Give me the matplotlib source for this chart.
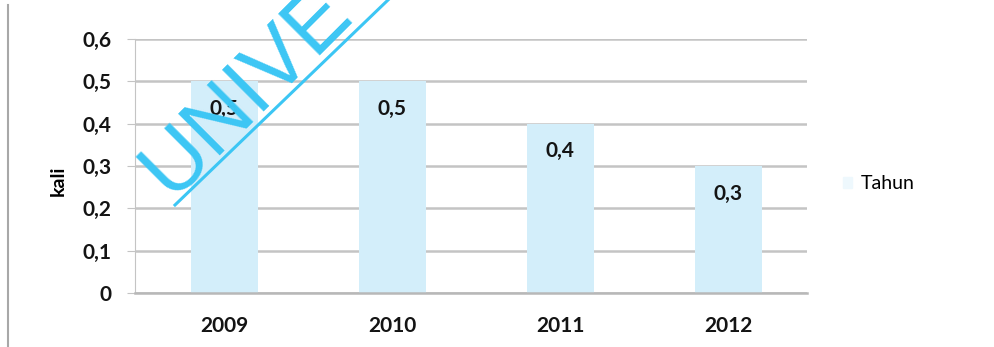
import matplotlib
matplotlib.use("Agg")
import matplotlib.pyplot as plt
from matplotlib.lines import Line2D
from matplotlib.ticker import FuncFormatter

# data
tahun = ["2009", "2010", "2011", "2012"]
kali = [0.5, 0.5, 0.4, 0.3]
y_ticks = [0, 0.1, 0.2, 0.3, 0.4, 0.5, 0.6]

bar_color = "#d3eefa"
grid_color = "#c4c4c4"
font = ["Lato", "DejaVu Sans"]


def koma(v):
    # decimal comma, plain 0 at the origin
    return "0" if v == 0 else f"{v:.1f}".replace(".", ",")


fig = plt.figure(figsize=(9.94, 3.47), dpi=100)
ax = fig.add_axes([0.136, 0.156, 0.676, 0.732])

bars = ax.bar(range(len(tahun)), kali, width=0.4, color=bar_color, zorder=2, label="Tahun")

ax.set_xlim(-0.53, len(tahun) - 0.53)
ax.set_ylim(0, 0.6)
ax.set_yticks(y_ticks)
ax.yaxis.set_major_formatter(FuncFormatter(lambda v, _: koma(v)))
ax.set_xticks(range(len(tahun)))
ax.set_xticklabels(tahun)

ax.grid(axis="y", color=grid_color, linewidth=1.8, zorder=1)
for s in ["top", "right"]:
    ax.spines[s].set_visible(False)
ax.spines["left"].set_color(grid_color)
ax.spines["bottom"].set_color("#b8b8b8")
ax.spines["bottom"].set_linewidth(1.8)
ax.tick_params(axis="y", length=6, color=grid_color, pad=11)
ax.tick_params(axis="x", length=0, pad=17)
for lbl in ax.get_xticklabels() + ax.get_yticklabels():
    lbl.set_family(font)
    lbl.set_fontweight("bold")
    lbl.set_fontsize(15)
    lbl.set_color("#141414")

ax.set_ylabel("kali", family=font, fontweight="bold", fontsize=14)
ax.yaxis.set_label_coords(-0.102, 0.44)

# value labels inside the bars
for b, v in zip(bars, kali):
    ax.annotate(koma(v), (b.get_x() + b.get_width() / 2, v),
                xytext=(0, -20), textcoords="offset points", ha="center", va="center",
                family=font, fontweight="bold", fontsize=15, color="#141414", zorder=4)

leg = ax.legend(loc="center left", bbox_to_anchor=(1.027, 0.43), frameon=False,
                prop={"family": font, "size": 14}, handlelength=0.5, handleheight=0.5,
                handletextpad=0.4)
leg.legend_handles[0].set_color("#eef8fd")

# frame line on the left
fig.add_artist(Line2D([0.008, 0.008], [0.0, 0.985], color="#a8a8a8", linewidth=1.5))

# watermark
fig.text(0.172, 0.429, "UNIVE", rotation=45, rotation_mode="anchor", ha="left", va="baseline",
         family="Liberation Sans", fontsize=61, color="#3cc6f4", zorder=10)
fig.add_artist(Line2D([175 / 994, 388 / 994], [1 - 205 / 347, 1.0], color="#3cc6f4",
                      linewidth=2.2, zorder=10))

fig.savefig("out.png", dpi=100)
